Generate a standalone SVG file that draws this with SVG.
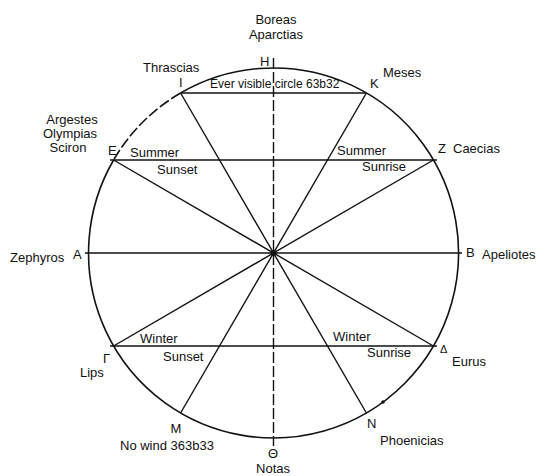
<svg xmlns="http://www.w3.org/2000/svg" width="537" height="476" viewBox="0 0 537 476">
<style>
text{font-family:"Liberation Sans",Arial,sans-serif;font-size:13px;fill:#111}
.s{font-size:12px}
.ln{stroke:#111;stroke-width:1.4;fill:none}
.c{stroke:#111;stroke-width:1.6;fill:none}
.dash{stroke-dasharray:11 3}
</style>
<rect width="537" height="476" fill="#fff"/>
<g id="circle">
<path class="c" d="M113.6 160 A185 185 0 1 0 180.6 93"/>
<path class="c dash" d="M180.6 93 A185 185 0 0 0 113.6 160"/>
</g>
<g id="connectors">
<line class="ln dash" x1="273.5" y1="58" x2="273.5" y2="446"/>
<line class="ln" x1="85" y1="253" x2="462" y2="253"/>
<line class="ln" x1="180.6" y1="93" x2="366.4" y2="413"/>
<line class="ln" x1="366.4" y1="93" x2="180.6" y2="413"/>
<line class="ln" x1="113.6" y1="160" x2="433.4" y2="346"/>
<line class="ln" x1="433.4" y1="160" x2="113.6" y2="346"/>
<line class="ln" x1="180.6" y1="93" x2="366.4" y2="93"/>
<line class="ln" x1="110" y1="160" x2="437" y2="160"/>
<line class="ln" x1="110" y1="346" x2="437" y2="346"/>
<circle cx="273.5" cy="253" r="3" fill="#111"/>
<circle cx="383" cy="402" r="1.8" fill="#111"/>
</g>
<g id="H"><text x="276" y="24" text-anchor="middle">Boreas</text><text x="276" y="39" text-anchor="middle">Aparctias</text><text x="260" y="66">H</text></g>
<g id="I"><text x="143" y="72">Thrascias</text><text x="179" y="87">I</text></g>
<g id="K"><text x="383" y="77">Meses</text><text x="370" y="88">K</text></g>
<g id="ever"><text class="s" x="210" y="88">Ever visible circle 63b32</text></g>
<g id="E"><text x="72" y="124" text-anchor="middle">Argestes</text><text x="70" y="138" text-anchor="middle">Olympias</text><text x="68" y="152" text-anchor="middle">Sciron</text><text x="108" y="155">E</text><text x="130" y="157">Summer</text><text x="157" y="174">Sunset</text></g>
<g id="Z"><text x="337" y="155">Summer</text><text x="362" y="171">Sunrise</text><text x="438" y="153">Z</text><text x="453" y="153">Caecias</text></g>
<g id="A"><text x="10" y="262">Zephyros</text><text x="73" y="259">A</text></g>
<g id="B"><text x="466" y="257">B</text><text x="482" y="259">Apeliotes</text></g>
<g id="G"><text x="140" y="343">Winter</text><text x="163" y="361">Sunset</text><text x="103" y="363">Γ</text><text x="80" y="377">Lips</text></g>
<g id="D"><text x="333" y="341">Winter</text><text x="367" y="357">Sunrise</text><text x="440" y="353" style="font-size:11px">Δ</text><text x="452" y="366">Eurus</text></g>
<g id="M"><text x="176" y="433" text-anchor="middle">M</text><text x="120" y="450">No wind 363b33</text></g>
<g id="N"><text x="367" y="428">N</text><text x="380" y="445">Phoenicias</text></g>
<g id="T"><text x="273" y="458" text-anchor="middle">Θ</text><text x="273" y="473" text-anchor="middle">Notas</text></g>
</svg>
